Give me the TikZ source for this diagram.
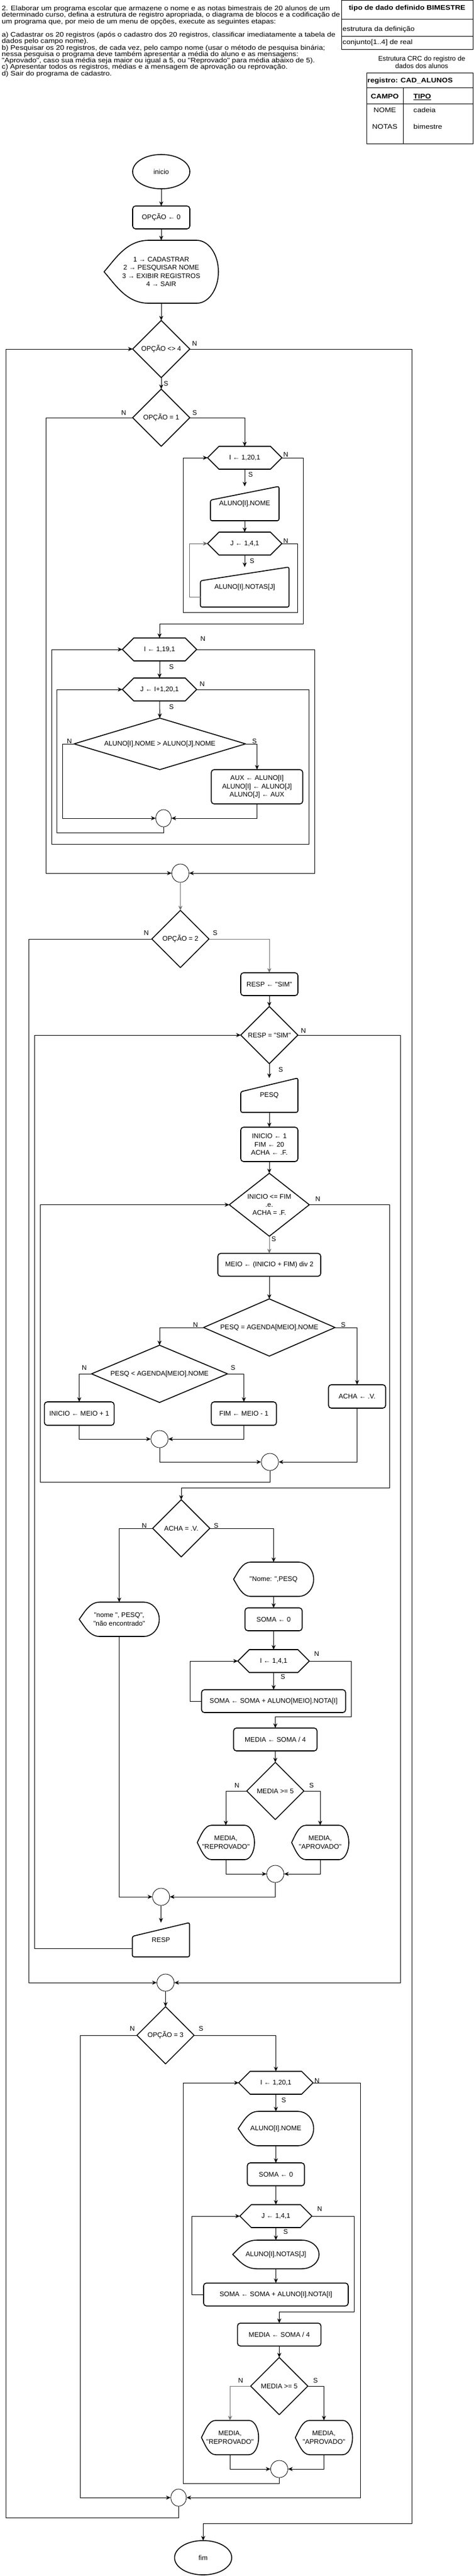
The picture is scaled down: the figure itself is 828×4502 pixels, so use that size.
\documentclass[tikz,border=0pt]{standalone}
\usepackage{fontspec}
\setmainfont{Liberation Sans}[Ligatures=TeXOff]
\usetikzlibrary{shapes.geometric,arrows.meta}
\newcommand\fcfont{\fontsize{11.8}{14.4}\selectfont}
\newcommand\hdfont{\fontsize{11.6}{11.4}\selectfont}
\newcommand\hd[1]{\scalebox{1.13}[1]{#1}}
\tikzset{
  fcbase/.style={inner sep=0pt,outer sep=0pt,align=center,font=\fcfont},
  shp/.style={line width=1.6pt,line join=round},
  conn/.style={line width=1pt,-{Stealth[length=8pt,width=7pt,inset=2.5pt]}},
  gconn/.style={conn,draw=black!55},
  lnk/.style={line width=1pt},
  lbl/.style={font=\fcfont,inner sep=0pt},
  mergec/.style={draw,ellipse,line width=0.8pt,inner sep=0pt,minimum width=30pt,minimum height=30pt},
  hdtext/.style={font=\hdfont,inner sep=0pt,anchor=base west},
}
\newcommand\Proc[5]{\node[fcbase,draw,shp,rounded corners=5pt,minimum width=#3pt,minimum height=#4pt] (#1) at (#2) {#5};}
\newcommand\Term[5]{\node[fcbase,draw,shp,ellipse,minimum width=#3pt,minimum height=#4pt] (#1) at (#2) {#5};}
\newcommand\Dia[5]{\node[fcbase,minimum width=#3pt,minimum height=#4pt] (#1) at (#2) {#5};
  \draw[shp] (#1.north) -- (#1.east) -- (#1.south) -- (#1.west) -- cycle;}
\newcommand\Hex[5]{\node[fcbase,minimum width=#3pt,minimum height=#4pt] (#1) at (#2) {#5};
  \draw[shp] ([xshift=20pt]#1.north west) -- ([xshift=-20pt]#1.north east) -- (#1.east) -- ([xshift=-20pt]#1.south east) -- ([xshift=20pt]#1.south west) -- (#1.west) -- cycle;}
\newcommand\ManIn[5]{\node[fcbase,minimum width=#3pt,minimum height=#4pt] (#1) at (#2) {#5};
  \draw[shp,rounded corners=3pt] (#1.south west) -- ([yshift=-24pt]#1.north west) -- (#1.north east) -- (#1.south east) -- cycle;}
\newcommand\Disp[7]{\node[fcbase,minimum width=#3pt,minimum height=#4pt] (#1) at (#2) {#7};
  \begin{scope}[shift={(#2)}]
  \draw[shp] ({-#3/2+#5},{-#4/2}) -- ({#3/2-#6},{-#4/2})
    .. controls ({#3/2-0.448*#6},{-#4/2}) and ({#3/2},{-0.276*#4}) .. ({#3/2},0)
    .. controls ({#3/2},{0.276*#4}) and ({#3/2-0.448*#6},{#4/2}) .. ({#3/2-#6},{#4/2})
    -- ({-#3/2+#5},{#4/2})
    .. controls ({-#3/2+#5/2},{#4/2}) and ({-#3/2+#5/4},{#4/5}) .. ({-#3/2},0)
    .. controls ({-#3/2+#5/4},{-#4/5}) and ({-#3/2+#5/2},{-#4/2}) .. cycle;
  \end{scope}}
\newcommand\Lbl[3]{\node[lbl] (#1) at (#2) {#3};}
\begin{document}
\begin{tikzpicture}[x=1pt,y=-1pt]
\fill[white] (0,0) rectangle (828,4502);
\useasboundingbox (0,0) rectangle (828,4502);

% ---------- header text ----------
\node[hdtext] (t1) at (3,18.5) {\hd{2. Elaborar um programa escolar que armazene o nome e as notas bimestrais de 20 alunos de um}};
\node[hdtext] (t2) at (3,29.9) {\hd{determinado curso, defina a estrutura de registro apropriada, o diagrama de blocos e a codificação de}};
\node[hdtext] (t3) at (3,41.2) {\hd{um programa que, por meio de um menu de opções, execute as seguintes etapas:}};
\node[hdtext] (t4) at (3,64.5) {\hd{a) Cadastrar os 20 registros (após o cadastro dos 20 registros, classificar imediatamente a tabela de}};
\node[hdtext] (t5) at (3,75.5) {\hd{dados pelo campo nome).}};
\node[hdtext] (t6) at (3,87.2) {\hd{b) Pesquisar os 20 registros, de cada vez, pelo campo nome (usar o método de pesquisa binária;}};
\node[hdtext] (t7) at (3,98.5) {\hd{nessa pesquisa o programa deve também apresentar a média do aluno e as mensagens:}};
\node[hdtext] (t8) at (3,109.9) {\hd{"Aprovado", caso sua média seja maior ou igual a 5, ou "Reprovado" para média abaixo de 5).}};
\node[hdtext] (t9) at (3,120.9) {\hd{c) Apresentar todos os registros, médias e a mensagem de aprovação ou reprovação.}};
\node[hdtext] (t10) at (3,132.5) {\hd{d) Sair do programa de cadastro.}};

% ---------- table BIMESTRE ----------
\draw[lnk] (597,0.8) rectangle (827,86.7);
\draw[lnk] (597,33.3) -- (827,33.3);
\draw[lnk] (597,63.3) -- (827,63.3);
\node[inner sep=0pt,font=\hdfont\bfseries] (tb1) at (712,14.3) {\hd{tipo de dado definido BIMESTRE}};
\node[hdtext] (tb2) at (599,54.2) {\hd{estrutura da definição}};
\node[hdtext] (tb3) at (599,77.9) {\hd{conjunto[1..4] de real}};
\node[inner sep=0pt,align=center,font=\fontsize{11.8}{12.7}\selectfont] (cap) at (737.6,108.7) {Estrutura CRC do registro de\\dados dos alunos};

% ---------- table CAD_ALUNOS ----------
\draw[lnk] (641.5,127.7) rectangle (827,251.7);
\draw[lnk] (641.5,153.3) -- (827,153.3);
\draw[lnk] (641.5,181.7) -- (827,181.7);
\draw[lnk] (705,153.3) -- (705,251.7);
\node[hdtext,font=\hdfont\bfseries] (tr) at (642.5,144.2) {\hd{registro: CAD\_ALUNOS}};
\node[inner sep=0pt,font=\hdfont\bfseries] (tc) at (673,168.3) {\hd{CAMPO}};
\node[hdtext,font=\hdfont\bfseries] (tt) at (723,172.5) {\hd{\underline{TIPO}}};
\node[inner sep=0pt,font=\hdfont] (tn1) at (673,192.7) {\hd{NOME}};
\node[hdtext] (tn2) at (723,196.9) {\hd{cadeia}};
\node[inner sep=0pt,font=\hdfont] (tn3) at (673,221.7) {\hd{NOTAS}};
\node[hdtext] (tn4) at (723,225.9) {\hd{bimestre}};

% ---------- main ----------
\Term{inicio}{282,300}{100}{60}{inicio}
\Proc{op0}{282,380}{100}{40}{OPÇÃO ← 0}
\Disp{menu}{282,475}{200}{110}{78}{38}{1 → CADASTRAR\\2 → PESQUISAR NOME\\3 → EXIBIR REGISTROS\\4 → SAIR}
\Dia{d4}{282,610}{100}{100}{OPÇÃO <> 4}
\Dia{d1}{282,730}{100}{100}{OPÇÃO = 1}

% ---------- option 1 ----------
\Hex{h1}{428,800}{130}{40}{I ← 1,20,1}
\ManIn{in1}{428,880}{120}{60}{ALUNO[I].NOME}
\Hex{h2}{428,950}{130}{40}{J ← 1,4,1}
\ManIn{in2}{428,1026}{155}{70}{ALUNO[I].NOTAS[J]}
\Hex{h3}{279,1135}{130}{40}{I ← 1,19,1}
\Hex{h4}{279,1205}{130}{40}{J ← I+1,20,1}
\Dia{d5}{279.5,1300}{300}{90}{ALUNO[I].NOME > ALUNO[J].NOME}
\Proc{swap}{449.5,1375}{160}{60}{AUX ← ALUNO[I]\\ALUNO[I] ← ALUNO[J]\\ALUNO[J] ← AUX}
\node[mergec,minimum width=27pt] (c1) at (286,1430) {};
\node[mergec,minimum height=32pt] (c2) at (315.5,1526) {};

% ---------- option 2 ----------
\Dia{d2}{315.5,1641}{100}{100}{OPÇÃO = 2}
\Proc{resp0}{471,1720}{100}{40}{RESP ← "SIM"}
\Dia{d6}{471,1809}{100}{100}{RESP = "SIM"}
\ManIn{inPesq}{471,1914}{100}{60}{PESQ}
\Proc{init}{471,2000}{100}{60}{INICIO ← 1\\FIM ← 20\\ACHA ← .F.}
\Dia{d7}{471,2105.5}{140}{110}{INICIO <= FIM\\.e.\\ACHA = .F.}
\Proc{meio}{471,2210.5}{180}{40}{MEIO ← (INICIO + FIM) div 2}
\Dia{d8}{471,2320}{230}{100}{PESQ = AGENDA[MEIO].NOME}
\Dia{d9}{279,2401}{238}{100}{PESQ < AGENDA[MEIO].NOME}
\Proc{rIni}{138.6,2470.5}{122}{41}{INICIO ← MEIO + 1}
\Proc{rFim}{426.5,2470.5}{114}{41}{FIM ← MEIO - 1}
\Proc{rAcha}{624.5,2440.5}{100}{41}{ACHA ← .V.}
\node[mergec] (c3) at (279,2515) {};
\node[mergec] (c4) at (472,2555) {};
\Dia{d10}{317,2671}{100}{100}{ACHA = .V.}
\Disp{dNome1}{478.5,2760}{140}{60}{30}{26}{"Nome: ",PESQ}
\Disp{dNao}{208.5,2830}{140}{60}{36}{27}{"nome ", PESQ",\\"não encontrado"}
\Proc{soma0}{478.5,2830}{100}{40}{SOMA ← 0}
\Hex{h5}{478.5,2903}{125}{40}{I ← 1,4,1}
\Proc{somaR}{478.5,2973}{252}{40}{SOMA ← SOMA + ALUNO[MEIO].NOTA[I]}
\Proc{media}{481.5,3040}{146}{40}{MEDIA ← SOMA / 4}
\Dia{d11}{481.5,3130}{100}{100}{MEDIA >= 5}
\Disp{dRep}{395,3220}{100}{60}{25}{17}{MEDIA,\\"REPROVADO"}
\Disp{dApr}{560,3220}{100}{60}{25}{17}{MEDIA,\\"APROVADO"}
\node[mergec] (c5) at (481.5,3275) {};
\node[mergec] (c6) at (281.7,3315) {};
\ManIn{inResp}{281.5,3390}{100}{60}{RESP}
\node[mergec] (c7) at (289.5,3465) {};

% ---------- option 3 ----------
\Dia{d3}{289.5,3557}{100}{100}{OPÇÃO = 3}
\Hex{h6}{482.5,3640}{130}{40}{I ← 1,20,1}
\Disp{dNome2}{482.5,3720}{132}{60}{35}{27}{ALUNO[I].NOME}
\Proc{soma1}{482.5,3800}{100}{40}{SOMA ← 0}
\Hex{h7}{482.5,3873}{126}{40}{J ← 1,4,1}
\Disp{dNotas}{482.5,3940}{151}{50}{42}{30}{ALUNO[I].NOTAS[J]}
\Proc{somaR2}{482.5,4010}{253}{40}{SOMA ← SOMA + ALUNO[I].NOTA[I]}
\Proc{media2}{488.4,4080}{146}{40}{MEDIA ← SOMA / 4}
\Dia{d12}{488.4,4170}{100}{100}{MEDIA >= 5}
\Disp{dRep2}{402.3,4260}{100}{60}{25}{17}{MEDIA,\\"REPROVADO"}
\Disp{dApr2}{566.5,4260}{100}{60}{25}{17}{MEDIA,\\"APROVADO"}
\node[mergec] (c8) at (488.4,4315) {};
\node[mergec,minimum width=27pt] (c9) at (312.3,4365) {};
\Term{fim}{355.3,4470}{100}{60}{fim}

% ---------- connectors: main ----------
\draw[conn] (inicio.south) -- (op0.north);
\draw[conn] (op0.south) -- (menu.north);
\draw[conn] (menu.south) -- (d4.north);
\draw[conn] (d4.south) -- (d1.north);
\draw[conn] (d4.east) -| (720,4410.3) -| (fim.north);
\draw[conn] (c9.south) |- (10.6,4400.3) |- (d4.west);

% ---------- connectors: option 1 ----------
\draw[conn] (d1.east) -| (h1.north);
\draw[conn] (h1.south) -- (in1.north);
\draw[conn] (in1.south) -- (h2.north);
\draw[conn] (h2.south) -- (in2.north);
\draw[conn,draw=black!60] ([yshift=-17pt]in2.west) -- ++(-19.5,0) |- (h2.west);
\draw[conn] (h2.east) -- ++(27,0) |- (320,1070) |- (h1.west);
\draw[conn] (h1.east) -| (530,1090) -| (h3.north);
\draw[conn] (h3.south) -- (h4.north);
\draw[conn] (h4.south) -- (d5.north);
\draw[conn] (d5.west) -| (109,1430) -- (c1.west);
\draw[conn] (d5.east) -| (swap.north);
\draw[conn] (swap.south) |- (c1.east);
\draw[conn] (c1.south) |- (99,1455) |- (h4.west);
\draw[conn] (h4.east) -| (540,1475) -| (90,1135) -- (h3.west);
\draw[conn] (h3.east) -| (550,1526) -- (c2.east);
\draw[conn] (d1.west) -| (80,1526) -- (c2.west);
\draw[gconn] (c2.south) -- (d2.north);

% ---------- connectors: option 2 ----------
\draw[conn] (d2.west) -| (50.7,3465) -- (c7.west);
\draw[gconn] (d2.east) -| (resp0.north);
\draw[conn] (resp0.south) -- (d6.north);
\draw[conn] (d6.east) -| (700.6,3465) -- (c7.east);
\draw[conn] (d6.south) -- (inPesq.north);
\draw[conn] (inPesq.south) -- (init.north);
\draw[conn] (init.south) -- (d7.north);
\draw[gconn] (d7.south) -- (meio.north);
\draw[conn] (meio.south) -- (d8.north);
\draw[conn] (d8.west) -| (d9.north);
\draw[conn] (d8.east) -| (rAcha.north);
\draw[conn] (d9.west) -| (rIni.north);
\draw[conn] (d9.east) -| (rFim.north);
\draw[conn] (rIni.south) |- (c3.west);
\draw[conn] (rFim.south) |- (c3.east);
\draw[conn] (c3.south) |- (c4.west);
\draw[conn] (rAcha.south) |- (c4.east);
\draw[conn] (c4.south) |- (70,2590) |- (d7.west);
\draw[conn] (d7.east) -| (681,2600.7) -| (d10.north);
\draw[conn] (d10.west) -| (dNao.north);
\draw[conn] (d10.east) -| (dNome1.north);
\draw[conn] (dNome1.south) -- (soma0.north);
\draw[conn] (soma0.south) -- (h5.north);
\draw[conn] (h5.south) -- (somaR.north);
\draw[conn] (somaR.west) -- (332,2973) |- (h5.west);
\draw[conn] (h5.east) -| (614.6,3000) -| (media.north);
\draw[conn] (media.south) -- (d11.north);
\draw[conn] (d11.west) -| (dRep.north);
\draw[conn] (d11.east) -| (dApr.north);
\draw[conn] (dRep.south) |- (c5.west);
\draw[conn] (dApr.south) |- (c5.east);
\draw[conn] (c5.south) |- (c6.east);
\draw[conn] (dNao.south) |- (c6.west);
\draw[conn] (c6.south) -- (inResp.north);
\draw[conn] ([yshift=-15pt]inResp.west) -| (60.7,1809) -- (d6.west);
\draw[conn] (c7.south) -- (d3.north);

% ---------- connectors: option 3 ----------
\draw[conn] (d3.west) -| (140,4365) -- (c9.west);
\draw[conn] (d3.east) -| (h6.north);
\draw[conn] (h6.south) -- (dNome2.north);
\draw[conn] (dNome2.south) -- (soma1.north);
\draw[conn] (soma1.south) -- (h7.north);
\draw[conn] (h7.south) -- (dNotas.north);
\draw[conn] (dNotas.south) -- (somaR2.north);
\draw[conn] (somaR2.west) -- (335.3,4010) |- (h7.west);
\draw[conn] (h7.east) -| (619.3,4040) -| (media2.north);
\draw[conn] (media2.south) -- (d12.north);
\draw[gconn] (d12.west) -| (dRep2.north);
\draw[conn] (d12.east) -| (dApr2.north);
\draw[conn] (dRep2.south) |- (c8.west);
\draw[conn] (dApr2.south) |- (c8.east);
\draw[conn] (c8.south) |- (320.5,4340.3) |- (h6.west);
\draw[conn] (h6.east) -| (630.4,4365) -- (c9.east);

% ---------- labels ----------
\Lbl{l1}{340.5,600.7}{N}  \Lbl{l2}{290.4,670.7}{S}
\Lbl{l3}{216.5,721}{N}    \Lbl{l4}{340.5,721}{S}
\Lbl{l5}{500,794.7}{N}    \Lbl{l6}{438.2,829.3}{S}
\Lbl{l7}{500,945.7}{N}    \Lbl{l8}{440.9,980.7}{S}
\Lbl{l9}{354.8,1116}{N}   \Lbl{l10}{299.9,1165.7}{S}
\Lbl{l11}{353.7,1195.7}{N} \Lbl{l12}{299.9,1235.7}{S}
\Lbl{l13}{121.4,1295.3}{N} \Lbl{l14}{445,1295.3}{S}
\Lbl{l15}{256,1630.7}{N}  \Lbl{l16}{376.4,1630.7}{S}
\Lbl{l17}{530.6,1801}{N}  \Lbl{l18}{491,1869.3}{S}
\Lbl{l19}{556,2095.7}{N}  \Lbl{l20}{478.9,2165.7}{S}
\Lbl{l21}{342,2315.3}{N}  \Lbl{l22}{600.3,2315.3}{S}
\Lbl{l23}{147.3,2390.7}{N} \Lbl{l24}{407.6,2390.7}{S}
\Lbl{l25}{252.4,2666}{N}  \Lbl{l26}{378,2666}{S}
\Lbl{l27}{553.8,2890.7}{N} \Lbl{l28}{494.7,2930.7}{S}
\Lbl{l29}{414.5,3120.7}{N} \Lbl{l30}{544.9,3120.7}{S}
\Lbl{l31}{231.3,3545.7}{N} \Lbl{l32}{351.6,3545.7}{S}
\Lbl{l33}{554.4,3636}{N}  \Lbl{l34}{496.3,3670.7}{S}
\Lbl{l35}{559.1,3860.7}{N} \Lbl{l36}{499.5,3900.7}{S}
\Lbl{l37}{420.8,4160.7}{N} \Lbl{l38}{551.7,4160.7}{S}
\end{tikzpicture}
\end{document}
